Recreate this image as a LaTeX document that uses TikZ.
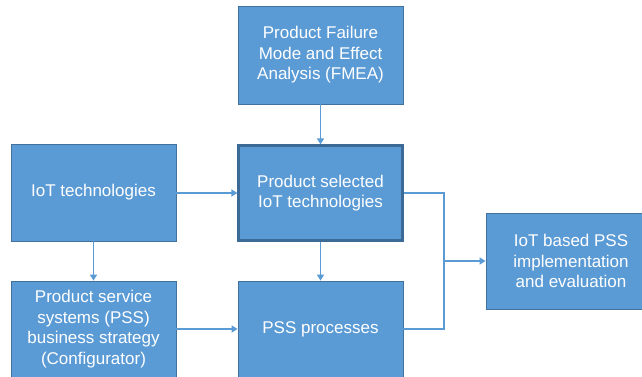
\documentclass[tikz,border=0pt]{standalone}
\usepackage{fontspec}
\setmainfont{Liberation Sans}
\usetikzlibrary{arrows.meta}
\definecolor{boxfill}{HTML}{5B9BD5}
\definecolor{boxline}{HTML}{41719C}
\definecolor{selline}{HTML}{3C6A96}
\definecolor{arrowc}{HTML}{5B9BD5}
\tikzset{
  blk/.style={draw=boxline, line width=0.8pt, fill=boxfill, text=white,
    align=center, inner sep=0pt, font=\fontsize{17}{20.5}\selectfont},
  selblk/.style={blk, draw=selline, line width=2.2pt},
  conn/.style={draw=arrowc, line width=1.6pt},
  arr/.style={conn, -{Triangle[length=6pt,width=7pt]}}
}
\begin{document}
\begin{tikzpicture}[x=1pt,y=-1pt]
\useasboundingbox (0,0) rectangle (642,377);
\clip (0,0) rectangle (642,377);
\node[blk, minimum width=165pt, minimum height=98pt] (fmea) at (320.5,55) {Product Failure\\Mode and Effect\\Analysis (FMEA)};
\node[selblk, minimum width=164pt, minimum height=95pt] (sel) at (320.5,193) {Product selected\\IoT technologies};
\node[blk, minimum width=165pt, minimum height=97pt] (iot) at (93.5,192.5) {IoT technologies};
\node[blk, minimum width=165pt, minimum height=96pt] (pss) at (93.5,329) {Product service\\systems (PSS)\\business strategy\\(Configurator)};
\node[blk, minimum width=165pt, minimum height=96pt] (proc) at (320.5,329) {PSS processes};
\node[blk, minimum width=170pt, minimum height=96pt] (impl) at (571,261) {IoT based PSS\\implementation\\and evaluation};
\coordinate (j) at (444,261);
\draw[arr] (fmea.south) -- (sel.north);
\draw[arr] (iot.east |- sel.west) -- (sel.west);
\draw[arr] (iot.south) -- (pss.north);
\draw[arr] (sel.south) -- (proc.north);
\draw[arr] (pss.east) -- (proc.west);
\draw[conn] (sel.east) -| (j) |- (proc.east);
\draw[arr] (j) -- (impl.west);
\end{tikzpicture}
\end{document}
